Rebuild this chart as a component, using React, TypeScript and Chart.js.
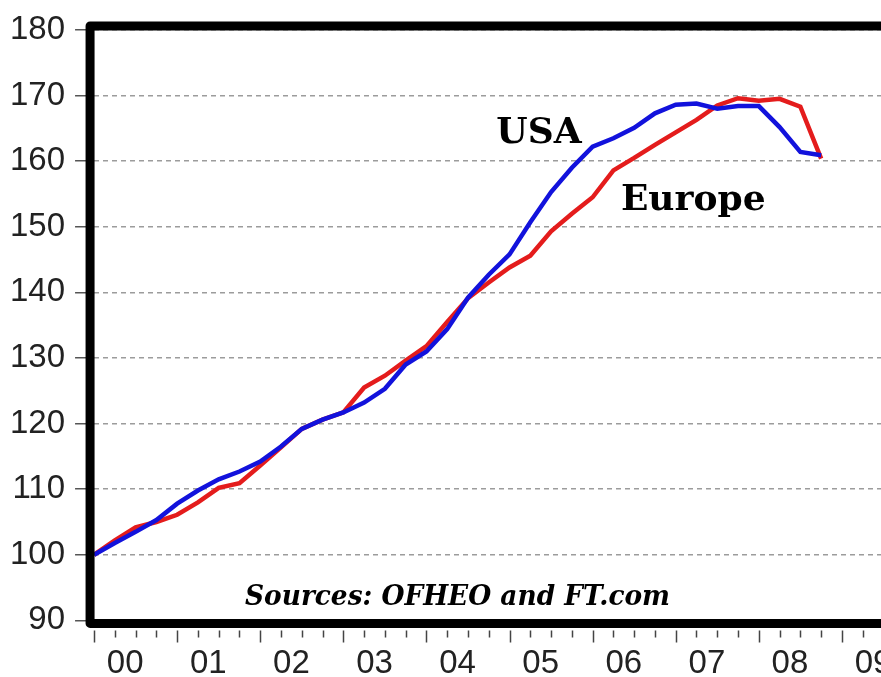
import React, { useEffect, useRef } from 'react';
import { Chart, registerables } from 'chart.js';

Chart.register(...registerables);

// ---- data ----
const QUARTERS = [
  '2000Q1', '2000Q2', '2000Q3', '2000Q4',
  '2001Q1', '2001Q2', '2001Q3', '2001Q4',
  '2002Q1', '2002Q2', '2002Q3', '2002Q4',
  '2003Q1', '2003Q2', '2003Q3', '2003Q4',
  '2004Q1', '2004Q2', '2004Q3', '2004Q4',
  '2005Q1', '2005Q2', '2005Q3', '2005Q4',
  '2006Q1', '2006Q2', '2006Q3', '2006Q4',
  '2007Q1', '2007Q2', '2007Q3', '2007Q4',
  '2008Q1', '2008Q2', '2008Q3', '2008Q4',
];

const USA = [
  100.0, 101.8, 103.5, 105.3,
  107.8, 109.8, 111.5, 112.7,
  114.2, 116.5, 119.2, 120.6,
  121.7, 123.2, 125.3, 129.0,
  131.0, 134.4, 139.2, 142.7,
  145.8, 150.7, 155.3, 159.0,
  162.2, 163.5, 165.1, 167.3,
  168.6, 168.8, 168.0, 168.4,
  168.4, 165.2, 161.4, 160.9,
];

const EUROPE = [
  100.0, 102.2, 104.2, 105.0,
  106.1, 108.0, 110.2, 110.9,
  113.6, 116.4, 119.2, 120.6,
  121.7, 125.5, 127.3, 129.6,
  131.8, 135.5, 139.1, 141.5,
  143.8, 145.6, 149.3, 152.0,
  154.5, 158.6, 160.5, 162.5,
  164.4, 166.3, 168.5, 169.6,
  169.2, 169.5, 168.3, 160.4,
];

const YEAR_LABELS = ['00', '01', '02', '03', '04', '05', '06', '07', '08', '09'];
const FIRST_YEAR = 2000;
const Y_MIN = 90;
const Y_MAX = 180;
const Y_STEP = 10;

const SERIES_NAMES = ['USA', 'Europe'];
const SOURCE_NOTE = 'Sources: OFHEO and FT.com';

// ---- helpers ----
const quarterToX = (q: string) => {
  const year = parseInt(q.slice(0, 4), 10);
  const qn = parseInt(q.slice(5), 10);
  return year + (qn - 1) / 4;
};

const toPoints = (vals: number[]) => QUARTERS.map((q, i) => ({ x: quarterToX(q), y: vals[i] }));

const decorPlugin = {
  id: 'decor',
  afterDatasetsDraw(chart: any) {
    const { ctx, chartArea, scales } = chart;
    const xs = scales.x;
    const ys = scales.y;
    ctx.save();

    // thick frame (left, top, bottom)
    ctx.strokeStyle = '#000';
    ctx.lineWidth = 9;
    ctx.lineJoin = 'round';
    ctx.lineCap = 'butt';
    ctx.beginPath();
    ctx.moveTo(chartArea.right + 40, chartArea.top - 4);
    ctx.lineTo(chartArea.left - 4, chartArea.top - 4);
    ctx.lineTo(chartArea.left - 4, chartArea.bottom + 3);
    ctx.lineTo(chartArea.right + 40, chartArea.bottom + 3);
    ctx.stroke();

    // x-axis quarter / year tick marks
    ctx.strokeStyle = '#444';
    ctx.lineWidth = 1.5;
    ctx.beginPath();
    for (let i = 0; i <= YEAR_LABELS.length * 4; i++) {
      const v = FIRST_YEAR + i / 4;
      const px = Math.round(xs.getPixelForValue(v)) + 0.5;
      const isYear = i % 4 === 0;
      ctx.moveTo(px, chartArea.bottom + 10);
      ctx.lineTo(px, chartArea.bottom + (isYear ? 22 : 17));
    }
    ctx.stroke();

    // series labels
    ctx.fillStyle = '#000';
    ctx.textBaseline = 'alphabetic';
    ctx.textAlign = 'left';
    ctx.font = 'bold 36px "DejaVu Serif"';
    ctx.fillText(SERIES_NAMES[0], xs.getPixelForValue(2004.84), ys.getPixelForValue(162.75));
    ctx.fillText(SERIES_NAMES[1], xs.getPixelForValue(2006.34), ys.getPixelForValue(152.56));

    // source note
    ctx.font = 'italic bold 27px "DejaVu Serif"';
    ctx.fillText(SOURCE_NOTE, xs.getPixelForValue(2001.817), ys.getPixelForValue(92.4), 425);

    ctx.restore();
  },
};

export default function App() {
  const canvasRef = useRef<HTMLCanvasElement | null>(null);

  useEffect(() => {
    const canvas = canvasRef.current;
    if (!canvas) return;
    const chart = new Chart(canvas, {
      type: 'line',
      data: {
        datasets: [
          {
            label: SERIES_NAMES[0],
            data: toPoints(USA),
            borderColor: 'rgb(18,18,220)',
            borderWidth: 4.5,
            pointRadius: 0,
            tension: 0,
            fill: false,
          },
          {
            label: SERIES_NAMES[1],
            data: toPoints(EUROPE),
            borderColor: 'rgb(228,28,28)',
            borderWidth: 4.5,
            pointRadius: 0,
            tension: 0,
            fill: false,
          },
        ],
      },
      options: {
        responsive: false,
        animation: false,
        events: [],
        layout: { padding: { left: 0, right: 15, top: 30, bottom: 2 } },
        plugins: {
          legend: { display: false },
          tooltip: { enabled: false },
          title: { display: false },
        },
        scales: {
          x: {
            type: 'linear',
            position: 'bottom',
            min: FIRST_YEAR,
            max: FIRST_YEAR + YEAR_LABELS.length,
            afterBuildTicks: (scale: any) => {
              scale.ticks = YEAR_LABELS.map((_, i) => ({ value: FIRST_YEAR + i + 0.375 }));
            },
            grid: { display: false, drawTicks: false },
            border: { display: false },
            ticks: {
              autoSkip: false,
              maxRotation: 0,
              padding: 24,
              color: '#222',
              font: { family: '"Liberation Sans", Arial, sans-serif', size: 33 },
              callback: (_v: any, i: number) => YEAR_LABELS[i],
            },
          },
          y: {
            type: 'linear',
            min: Y_MIN,
            max: Y_MAX,
            ticks: {
              stepSize: Y_STEP,
              padding: 10,
              color: '#222',
              font: { family: '"Liberation Sans", Arial, sans-serif', size: 33 },
            },
            grid: {
              color: '#9c9c9c',
              lineWidth: 1.5,
              tickLength: 19,
              tickColor: '#555',
              tickWidth: 1.5,
            },
            border: { display: false, dash: [5, 4] },
          },
        },
      },
      plugins: [decorPlugin],
    });
    return () => chart.destroy();
  }, []);

  return (
    <div
      style={{
        position: 'fixed',
        left: 0,
        top: 0,
        width: 881,
        height: 677,
        overflow: 'hidden',
        background: '#fff',
      }}
    >
      <canvas
        ref={canvasRef}
        width={940}
        height={710}
        style={{ display: 'block', width: 940, height: 710 }}
      />
    </div>
  );
}
